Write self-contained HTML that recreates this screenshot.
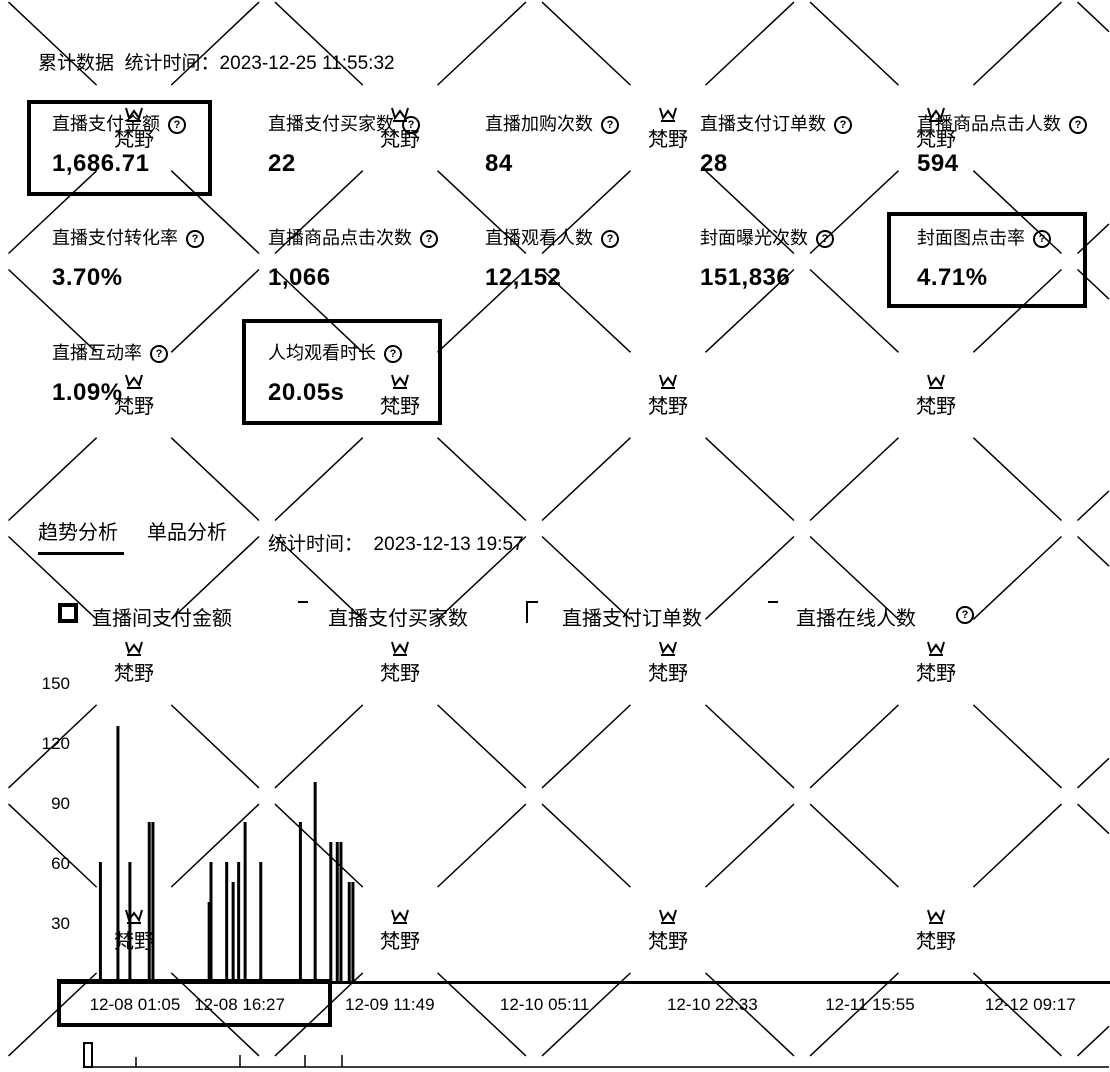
<!DOCTYPE html>
<html><head><meta charset="utf-8">
<style>
html,body{margin:0;padding:0;background:#fff;width:1110px;height:1072px;overflow:hidden;}
#wrap{position:relative;width:1110px;height:1072px;overflow:hidden;font-family:"Liberation Sans","Noto Sans CJK SC",sans-serif;color:#000;}
.abs{position:absolute;white-space:nowrap;}
.lab{font-size:18px;}
.val{font-size:24px;font-weight:bold;letter-spacing:0.5px;}
.q{display:inline-block;width:14px;height:14px;border:2px solid #000;border-radius:50%;font-size:11px;line-height:14px;text-align:center;font-weight:bold;margin-left:8px;vertical-align:2px;}
.box{position:absolute;border:4px solid #000;box-sizing:border-box;}
svg{position:absolute;left:0;top:0;overflow:hidden;}
</style></head><body>
<div id="wrap">
<svg id="wmsvg" width="1110" height="1072"></svg>

<div class="abs" style="left:38px;top:48px;font-size:19px;">累计数据&nbsp; 统计时间：2023-12-25 11:55:32</div>

<div class="box" style="left:27px;top:100px;width:185px;height:96px;"></div>
<div class="box" style="left:242px;top:319px;width:200px;height:106px;"></div>
<div class="box" style="left:887px;top:212px;width:200px;height:96px;"></div>

<div id="metrics"></div>

<div class="abs" style="left:38px;top:516px;font-size:20px;">趋势分析</div>
<div class="abs" style="left:38px;top:552px;width:86px;height:3px;background:#000;"></div>
<div class="abs" style="left:147px;top:516px;font-size:20px;">单品分析</div>
<div class="abs" style="left:268px;top:529px;font-size:19px;">统计时间：&nbsp; 2023-12-13 19:57</div>

<div class="abs" style="left:58px;top:603px;width:18px;height:18px;background:#000;border:1px solid #000;"><div style="margin:3px;width:12px;height:12px;background:#fff;"></div></div>
<div class="abs" style="left:92px;top:602px;font-size:20px;">直播间支付金额</div>
<div class="abs" style="left:298px;top:601px;width:10px;height:2px;background:#000;"></div>
<div class="abs" style="left:328px;top:602px;font-size:20px;">直播支付买家数</div>
<div class="abs" style="left:526px;top:601px;width:10px;height:20px;border-left:2px solid #000;border-top:2px solid #000;"></div>
<div class="abs" style="left:562px;top:602px;font-size:20px;">直播支付订单数</div>
<div class="abs" style="left:768px;top:601px;width:10px;height:2px;background:#000;"></div>
<div class="abs" style="left:796px;top:602px;font-size:20px;">直播在线人数</div>
<div class="abs" style="left:956px;top:606px;"><span class="q" style="margin:0">?</span></div>

<svg id="chart" width="1110" height="1072"></svg>
</div>
<script>
// ---- chart data ----
const yTicks = [30, 60, 90, 120, 150];
const barHours = [3.3, 5.2, 6.5, 8.6, 9.0, 15.1, 15.3, 17.0, 17.7, 18.3, 19.0, 20.7, 25.0, 26.6, 28.3, 29.0, 29.4, 30.3, 30.7];
const barValues = [60, 128, 60, 80, 80, 40, 60, 60, 50, 60, 80, 60, 80, 100, 70, 70, 70, 50, 50];
const xTickLabels = ["12-08 01:05", "12-08 16:27", "12-09 11:49", "12-10 05:11", "12-10 22:33", "12-11 15:55", "12-12 09:17"];
const xTickHours = [7.05, 18.4, 34.7, 51.5, 69.7, 86.8, 104.2];

const metricLabels = ["直播支付金额","直播支付买家数","直播加购次数","直播支付订单数","直播商品点击人数","直播支付转化率","直播商品点击次数","直播观看人数","封面曝光次数","封面图点击率","直播互动率","人均观看时长"];
const metricValues = ["1,686.71","22","84","28","594","3.70%","1,066","12,152","151,836","4.71%","1.09%","20.05s"];

const NS = "http://www.w3.org/2000/svg";
function x(h){ return 70 + h * 9.216; }
function y(v){ return 982 - v * 2; }

const mc = document.getElementById('metrics');
const colX = [52, 268, 485, 700, 917];
const rowY = [110, 224, 339];
metricLabels.forEach((l, i) => {
  const c = i % 5, r = Math.floor(i / 5);
  const a = document.createElement('div');
  a.className = 'abs lab';
  a.style.left = colX[c] + 'px'; a.style.top = rowY[r] + 'px';
  a.innerHTML = l + '<span class="q">?</span>';
  
  
  mc.appendChild(a);
  const v = document.createElement('div');
  v.className = 'abs val';
  v.style.left = colX[c] + 'px'; v.style.top = (rowY[r] + 40) + 'px';
  v.textContent = metricValues[i];
  
  
  mc.appendChild(v);
});

const wm = document.getElementById('wmsvg');
const wcx = [-133, 134, 400, 668, 936, 1203];
const wcy = [-140, 128, 395, 662, 930, 1198];
function seg(x1,y1,x2,y2){
  // clip to frame
  let t0 = 0, t1 = 1;
  const dxs = x2 - x1, dys = y2 - y1;
  const p = [-dxs, dxs, -dys, dys], q = [x1 - 0, 1109 - x1, y1 - 0, 1071 - y1];
  for (let k = 0; k < 4; k++) {
    if (p[k] === 0) { if (q[k] < 0) return; continue; }
    const r = q[k] / p[k];
    if (p[k] < 0) { if (r > t1) return; if (r > t0) t0 = r; }
    else { if (r < t0) return; if (r < t1) t1 = r; }
  }
  const ln = document.createElementNS(NS,'line');
  ln.setAttribute('x1',x1+dxs*t0);ln.setAttribute('y1',y1+dys*t0);
  ln.setAttribute('x2',x1+dxs*t1);ln.setAttribute('y2',y1+dys*t1);
  ln.setAttribute('stroke','#000');ln.setAttribute('stroke-width','1.5');
  
  
  wm.appendChild(ln);
}
for (let i = 0; i < wcx.length - 1; i++) for (let j = 0; j < wcy.length - 1; j++) {
  const dx = wcx[i+1]-wcx[i], dy = wcy[j+1]-wcy[j];
  seg(wcx[i]+dx*0.14, wcy[j]+dy*0.16, wcx[i]+dx*0.47, wcy[j]+dy*0.47);
  seg(wcx[i]+dx*0.53, wcy[j]+dy*0.53, wcx[i]+dx*0.86, wcy[j]+dy*0.84);
  seg(wcx[i+1]-dx*0.14, wcy[j]+dy*0.16, wcx[i+1]-dx*0.47, wcy[j]+dy*0.47);
  seg(wcx[i+1]-dx*0.53, wcy[j]+dy*0.53, wcx[i+1]-dx*0.86, wcy[j]+dy*0.84);
}
for (let i = 1; i < wcx.length - 1; i++) for (let j = 1; j < wcy.length - 1; j++) {
  const t = document.createElementNS(NS,'text');
  t.setAttribute('x', wcx[i]); t.setAttribute('y', wcy[j] + 18);
  t.setAttribute('text-anchor','middle'); t.setAttribute('font-size','20');
  t.setAttribute('font-family','"Liberation Sans","Noto Sans CJK SC",sans-serif');
  t.textContent = '梵野';
  
  
  wm.appendChild(t);
  const c = document.createElementNS(NS,'path');
  c.setAttribute('d', `M${wcx[i]-8},${wcy[j]-20} l3,10 l5,-7 l5,7 l3,-10 M${wcx[i]-7},${wcy[j]-7} h14`);
  c.setAttribute('stroke','#000'); c.setAttribute('fill','none'); c.setAttribute('stroke-width','2');
  
  
  wm.appendChild(c);
}

const ch = document.getElementById('chart');
yTicks.forEach(v => {
  const t = document.createElementNS(NS,'text');
  t.setAttribute('x', 70); t.setAttribute('y', y(v) + 7);
  t.setAttribute('text-anchor','end'); t.setAttribute('font-size','17');
  t.setAttribute('font-family','"Liberation Sans",sans-serif');
  t.textContent = v;
  
  
  ch.appendChild(t);
});
barHours.forEach((h, i) => {
  const r = document.createElementNS(NS,'rect');
  r.setAttribute('x', x(h) - 1.5); r.setAttribute('y', y(barValues[i]));
  r.setAttribute('width', 3); r.setAttribute('height', 982 - y(barValues[i]));
  r.setAttribute('fill', '#000');
  
  
  ch.appendChild(r);
});
const base = document.createElementNS(NS,'rect');
base.setAttribute('x', 60); base.setAttribute('y', 981); base.setAttribute('width', 1050); base.setAttribute('height', 3); base.setAttribute('fill', '#000');


ch.appendChild(base);
xTickLabels.forEach((l, i) => {
  const t = document.createElementNS(NS,'text');
  t.setAttribute('x', x(xTickHours[i])); t.setAttribute('y', 1010);
  t.setAttribute('text-anchor','middle'); t.setAttribute('font-size','17');
  t.setAttribute('font-family','"Liberation Sans",sans-serif');
  t.textContent = l;
  
  
  ch.appendChild(t);
});
const hb = document.createElementNS(NS,'rect');
hb.setAttribute('x', 59); hb.setAttribute('y', 981); hb.setAttribute('width', 271); hb.setAttribute('height', 44);
hb.setAttribute('fill','none'); hb.setAttribute('stroke','#000'); hb.setAttribute('stroke-width','4');


ch.appendChild(hb);
const sl = document.createElementNS(NS,'path');
sl.setAttribute('d','M92,1067 H1109 M136,1057 v10 M240,1055 v12 M305,1055 v12 M342,1055 v12');
sl.setAttribute('stroke','#000'); sl.setAttribute('stroke-width','1.5'); sl.setAttribute('fill','none');


ch.appendChild(sl);
const hd = document.createElementNS(NS,'rect');
hd.setAttribute('x', 84); hd.setAttribute('y', 1043); hd.setAttribute('width', 8); hd.setAttribute('height', 24);
hd.setAttribute('fill','#fff'); hd.setAttribute('stroke','#000'); hd.setAttribute('stroke-width','2');


ch.appendChild(hd);
</script>
</body></html>
